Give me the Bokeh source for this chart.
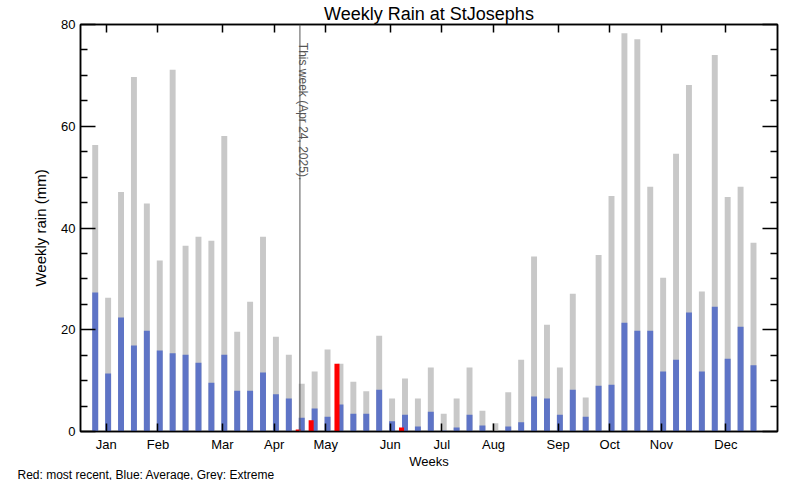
import math
from bokeh.plotting import figure
from bokeh.models import Range1d, FixedTicker, LinearAxis, Span, Label, Title
from bokeh.embed import file_html
from bokeh.resources import INLINE

# ---- data ----
weeks = list(range(52))
extreme = [56.3, 26.3, 47.1, 69.7, 44.8, 33.6, 71.1, 36.5, 38.3, 37.5,
           58.1, 19.6, 25.5, 38.3, 18.6, 15.1, 9.4, 11.8, 16.1, 13.3,
           9.8, 7.9, 18.8, 6.5, 10.4, 6.5, 12.6, 3.5, 6.5, 12.6,
           4.1, 1.6, 7.7, 14.1, 34.4, 21.0, 12.6, 27.1, 6.7, 34.7,
           46.3, 78.3, 77.1, 48.1, 30.2, 54.6, 68.1, 27.5, 74.0, 46.1,
           48.1, 37.1]
average = [27.3, 11.4, 22.4, 16.9, 19.8, 15.9, 15.4, 15.1, 13.5, 9.6,
           15.1, 8.0, 8.0, 11.6, 7.3, 6.5, 2.7, 4.5, 2.9, 5.3,
           3.5, 3.5, 8.2, 2.0, 3.3, 1.0, 3.9, 0.2, 0.8, 3.3,
           1.2, 0.0, 1.0, 1.8, 6.9, 6.5, 3.3, 8.2, 2.9, 9.0,
           9.2, 21.4, 19.8, 19.8, 11.8, 14.1, 23.4, 11.8, 24.5, 14.3,
           20.6, 13.0]
recent_weeks = [16, 17, 19, 24]
recent = [0.4, 2.2, 13.3, 0.8]
this_week = 16
month_ticks = [1, 5, 10, 14, 18, 23, 27, 31, 36, 40, 44, 49]
month_labels = ["Jan", "Feb", "Mar", "Apr", "May", "Jun",
                "Jul", "Aug", "Sep", "Oct", "Nov", "Dec"]
y_major = [0, 20, 40, 60, 80]
y_minor = [v for v in range(0, 81, 5) if v % 20 != 0]

FONT = "Liberation Sans"
GREY = "#c8c8c8"
BLUE = "#5e74c6"
RED = "#ff0000"

p = figure(width=800, height=480, output_backend="svg", toolbar_location=None,
           x_range=Range1d(-1, 53), y_range=Range1d(0, 80),
           min_border_left=80, min_border_right=23, min_border_top=24,
           min_border_bottom=49)
p.background_fill_color = "white"
p.border_fill_color = "white"
p.outline_line_color = "black"
p.outline_line_width = 1.5
p.xgrid.visible = False
p.ygrid.visible = False

p.title.text = "Weekly Rain at StJosephs"
p.title.align = "center"
p.title.text_font = FONT
p.title.text_font_size = "18px"
p.title.text_font_style = "normal"
p.title.text_color = "black"
p.title.standoff = 2

gx = [w + 0.14 for w in weeks]
p.vbar(x=gx, width=0.46, top=extreme, bottom=0, fill_color=GREY, line_color=None)
p.vbar(x=gx, width=0.46, top=average, bottom=0, fill_color=BLUE, line_color=None)
rx = [w - 0.13 for w in recent_weeks]
p.vbar(x=rx, width=0.39, top=recent, bottom=0, fill_color=RED, line_color=None)

p.add_layout(Span(location=this_week, dimension="height", line_color="#555555", line_width=1))

# axes
def style_x(ax, labels=True):
    ax.ticker = FixedTicker(ticks=month_ticks)
    ax.major_tick_in = 8
    ax.major_tick_out = 0
    ax.minor_tick_line_color = None
    ax.axis_line_color = "black"
    ax.axis_line_width = 1.5
    ax.major_tick_line_width = 1.5
    if labels:
        ax.major_label_overrides = {t: m for t, m in zip(month_ticks, month_labels)}
        ax.major_label_text_font = FONT
        ax.major_label_text_font_size = "13px"
        ax.major_label_text_color = "black"
        ax.major_label_standoff = 5
    else:
        ax.major_label_overrides = {t: "" for t in month_ticks}
        ax.major_label_text_font_size = "1px"
        ax.major_label_standoff = 0

def style_y(ax, labels=True):
    ax.ticker = FixedTicker(ticks=y_major, minor_ticks=y_minor)
    ax.major_tick_in = 15
    ax.major_tick_out = 0
    ax.minor_tick_in = 7
    ax.minor_tick_out = 0
    ax.axis_line_color = "black"
    ax.axis_line_width = 1.5
    ax.major_tick_line_width = 1.5
    ax.minor_tick_line_width = 1.5
    ax.minor_tick_line_color = "black"
    if labels:
        ax.major_label_text_font = FONT
        ax.major_label_text_font_size = "13px"
        ax.major_label_text_color = "black"
        ax.major_label_standoff = 5
    else:
        ax.major_label_overrides = {t: "" for t in y_major}
        ax.major_label_text_font_size = "1px"
        ax.major_label_standoff = 0

style_x(p.xaxis[0])
p.xaxis[0].axis_label = "Weeks"
p.xaxis[0].axis_label_text_font = FONT
p.xaxis[0].axis_label_text_font_size = "13px"
p.xaxis[0].axis_label_text_font_style = "normal"
p.xaxis[0].axis_label_text_color = "black"
p.xaxis[0].axis_label_standoff = -1

style_y(p.yaxis[0])
p.yaxis[0].axis_label = "Weekly rain (mm)"
p.yaxis[0].axis_label_text_font = FONT
p.yaxis[0].axis_label_text_font_size = "15px"
p.yaxis[0].axis_label_text_font_style = "normal"
p.yaxis[0].axis_label_text_color = "black"
p.yaxis[0].axis_label_standoff = 9

top_ax = LinearAxis()
style_x(top_ax, labels=False)
p.add_layout(top_ax, "above")
right_ax = LinearAxis()
style_y(right_ax, labels=False)
p.add_layout(right_ax, "right")

# texts
p.add_layout(Label(x=this_week, y=76.4, x_offset=3, text="This week (Apr 24, 2025).",
                   angle=-math.pi / 2, text_align="left", text_baseline="alphabetic",
                   text_font=FONT, text_font_size="12px", text_color="#555555"))
note = Title(text="Red: most recent, Blue: Average, Grey: Extreme", align="left",
             offset=-63, standoff=-12, text_font=FONT, text_font_size="12px",
             text_font_style="normal", text_color="black")
p.add_layout(note, "below")

open("out.html", "w").write(file_html(p, INLINE))
